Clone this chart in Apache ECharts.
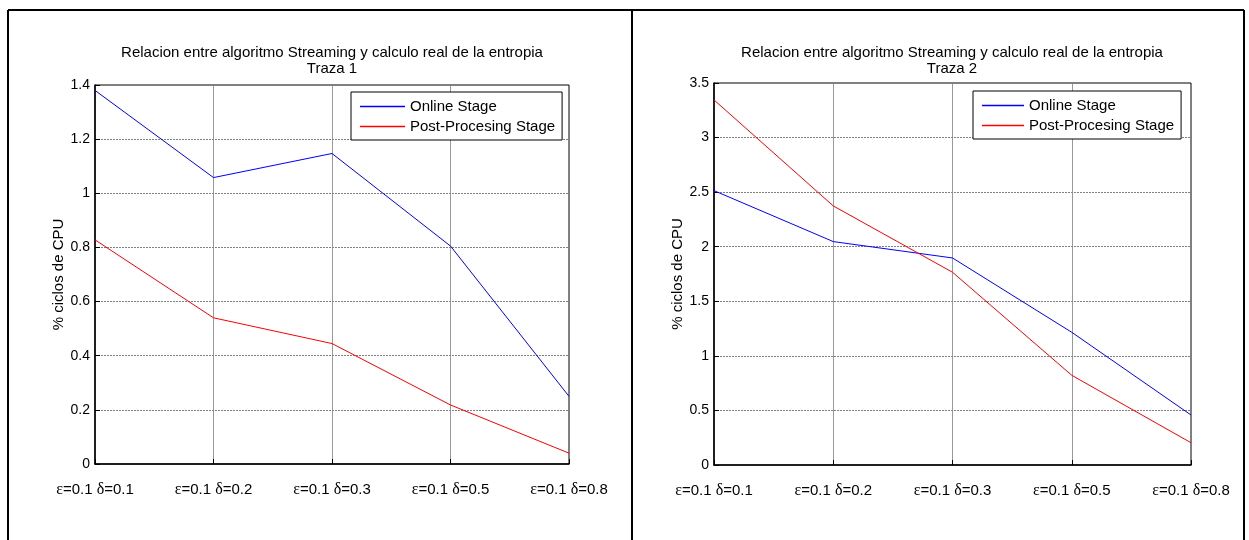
<!DOCTYPE html>
<html>
<head>
<meta charset="utf-8">
<script src="https://cdn.jsdelivr.net/npm/echarts@6/dist/echarts.min.js"></script>
<style>
html,body{margin:0;padding:0;background:#fff;}
#chart{width:1249px;height:540px;}
</style>
</head>
<body>
<div id="chart"></div>
<script>
const categories = ['ε=0.1 δ=0.1', 'ε=0.1 δ=0.2', 'ε=0.1 δ=0.3', 'ε=0.1 δ=0.5', 'ε=0.1 δ=0.8'];
const seriesNames = ['Online Stage', 'Post-Procesing Stage'];
const online1 = [1.38, 1.058, 1.147, 0.805, 0.25];
const post1 = [0.828, 0.54, 0.445, 0.218, 0.04];
const online2 = [2.514, 2.047, 1.897, 1.216, 0.458];
const post2 = [3.345, 2.374, 1.766, 0.822, 0.204];
const titleLine1 = 'Relacion entre algoritmo Streaming y calculo real de la entropia';
const titles = ['Traza 1', 'Traza 2'];
const yAxisName = '% ciclos de CPU';
const yMax1 = 1.4, yStep1 = 0.2;
const yMax2 = 3.5, yStep2 = 0.5;

const FONT = '"Liberation Sans", Arial, Helvetica, sans-serif';
const grids = [
  {left: 95, top: 85, width: 474, height: 379},
  {left: 714, top: 83, width: 477, height: 382}
];

function xAxis(i) {
  return {
    type: 'category', gridIndex: i, data: categories, boundaryGap: false,
    axisLine: {lineStyle: {color: '#000', width: 1.5}},
    axisTick: {inside: true, length: 5, interval: 0, lineStyle: {color: '#000'}},
    axisLabel: {
      color: '#000', fontFamily: FONT, fontSize: 15, margin: 18, interval: 0, hideOverlap: false,
      formatter: v => v.replace(/([εδ])/g, '{g|$1}'),
      rich: {g: {fontFamily: '"Liberation Serif", "Times New Roman", serif', fontSize: 16, color: '#000'}}
    },
    splitLine: {show: true, interval: 0, lineStyle: {color: '#808080', type: 'solid', width: 1, opacity: 0.8}}
  };
}
function yAxis(i, max, step) {
  return {
    type: 'value', gridIndex: i, min: 0, max: max, interval: step,
    name: yAxisName, nameLocation: 'middle', nameRotate: 90, nameGap: 28,
    nameTextStyle: {color: '#000', fontFamily: FONT, fontSize: 15},
    axisLine: {show: true, lineStyle: {color: '#000', width: 1.5}},
    axisTick: {show: true, inside: true, length: 5, lineStyle: {color: '#000'}},
    axisLabel: {color: '#000', fontFamily: FONT, fontSize: 14, margin: 5},
    splitLine: {show: true, lineStyle: {color: '#808080', type: [2, 1], width: 1}}
  };
}
function line(name, data, color, i) {
  return {
    name: name, type: 'line', xAxisIndex: i, yAxisIndex: i, data: data,
    symbol: 'none', lineStyle: {color: color, width: 1}, itemStyle: {color: color},
    animation: false
  };
}
function legend(left, top, itemWidth) {
  return {
    left: left, top: top, orient: 'vertical', data: seriesNames,
    backgroundColor: '#fff', borderColor: '#000', borderWidth: 1,
    padding: [7, 7, 6, 9], itemGap: 5, itemWidth: itemWidth, itemHeight: 1.5, icon: 'rect',
    textStyle: {color: '#000', fontFamily: FONT, fontSize: 15}
  };
}
function titleGraphic(cx, y, sub) {
  return {
    type: 'text', x: cx, y: y, z: 10,
    style: {text: titleLine1 + '\n' + sub, textAlign: 'center', textVerticalAlign: 'top',
      font: '15px ' + FONT, lineHeight: 16, fill: '#000'}
  };
}

const chart = echarts.init(document.getElementById('chart'), null, {renderer: 'canvas'});
chart.setOption({
  backgroundColor: '#fff',
  animation: false,
  grid: grids.map(g => Object.assign({show: true, borderColor: '#000', borderWidth: 1, backgroundColor: 'transparent'}, g)),
  xAxis: [xAxis(0), xAxis(1)],
  yAxis: [yAxis(0, yMax1, yStep1), yAxis(1, yMax2, yStep2)],
  legend: [legend(351, 92, 45), legend(973, 91, 42)],
  series: [
    line(seriesNames[0], online1, '#0000ff', 0),
    line(seriesNames[1], post1, '#ff0000', 0),
    line(seriesNames[0], online2, '#0000ff', 1),
    line(seriesNames[1], post2, '#ff0000', 1)
  ],
  graphic: [
    titleGraphic(332, 45, titles[0]),
    titleGraphic(952, 45, titles[1]),
    {type: 'line', shape: {x1: 8, y1: 10, x2: 1244, y2: 10}, style: {stroke: '#000', lineWidth: 2}},
    {type: 'line', shape: {x1: 8, y1: 10, x2: 8, y2: 540}, style: {stroke: '#000', lineWidth: 2}},
    {type: 'line', shape: {x1: 632, y1: 10, x2: 632, y2: 540}, style: {stroke: '#000', lineWidth: 2}},
    {type: 'line', shape: {x1: 1244, y1: 10, x2: 1244, y2: 540}, style: {stroke: '#000', lineWidth: 2}}
  ]
});
</script>
</body>
</html>
